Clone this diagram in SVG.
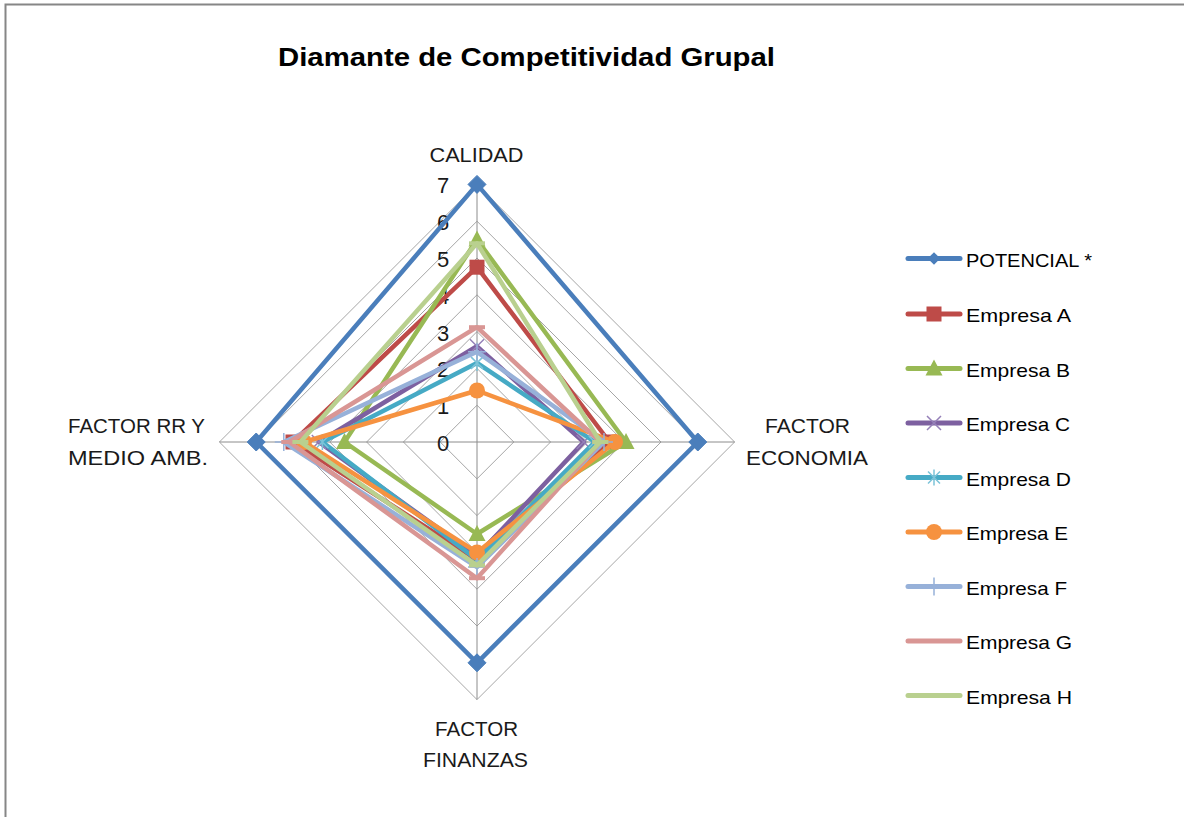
<svg xmlns="http://www.w3.org/2000/svg" xmlns:xlink="http://www.w3.org/1999/xlink" width="1184" height="817" viewBox="0 0 1184 817">
<style>
.grid{fill:none;stroke:#a6a6a6;stroke-width:1}
.spoke{stroke:#8c8c8c;stroke-width:1}
.ser{fill:none;stroke-width:4.5;stroke-linejoin:round}
.lg{stroke-width:5;stroke-linecap:round}
.num{font-family:"Liberation Sans",Arial,sans-serif;font-size:22px;fill:#1a1a1a;text-anchor:middle}
.axl{font-family:"Liberation Sans",Arial,sans-serif;font-size:21px;fill:#1a1a1a;text-anchor:middle}
.axs{font-family:"Liberation Sans",Arial,sans-serif;font-size:21px;fill:#1a1a1a}
.leg{font-family:"Liberation Sans",Arial,sans-serif;font-size:19px;fill:#000}
.title{font-family:"Liberation Sans",Arial,sans-serif;font-size:26px;font-weight:bold;fill:#000}
.thin{fill:none;stroke-width:1.5}
</style>
<defs>
<path id="mDiamond" d="M0,-9 L9,0 L0,9 L-9,0Z"/>
<rect id="mSquare" x="-7.5" y="-7.5" width="15" height="15"/>
<path id="mTri" d="M0,-9 L8.5,7 L-8.5,7Z"/>
<path id="mX" d="M-7,-7 L7,7 M-7,7 L7,-7"/>
<path id="mStar" d="M-6,-6 L6,6 M-6,6 L6,-6 M0,-8 L0,8"/>
<circle id="mCircle" r="8"/>
<path id="mPlus" d="M-9,0 L9,0 M0,-9 L0,9"/>
<path id="mDash" d="M-8,0 L8,0"/>
</defs>
<rect x="0" y="0" width="1184" height="817" fill="#fff"/>
<rect x="5.5" y="4.5" width="1300" height="900" fill="none" stroke="#868686" stroke-width="2"/>
<text class="title" x="278" y="66" textLength="497" lengthAdjust="spacingAndGlyphs">Diamante de Competitividad Grupal</text>

<g id="grid">
<path class="grid" d="M477,405.2 L513.8,442 L477,478.8 L440.2,442Z"/>
<path class="grid" d="M477,368.4 L550.6,442 L477,515.6 L403.4,442Z"/>
<path class="grid" d="M477,331.6 L587.4,442 L477,552.4 L366.6,442Z"/>
<path class="grid" d="M477,294.8 L624.2,442 L477,589.2 L329.8,442Z"/>
<path class="grid" d="M477,258 L661,442 L477,626 L293,442Z"/>
<path class="grid" d="M477,221.2 L697.8,442 L477,662.8 L256.2,442Z"/>
<path class="grid" d="M477,184.4 L734.6,442 L477,699.6 L219.4,442Z"/>
<line class="spoke" x1="477" y1="184.4" x2="477" y2="699.6"/>
<line class="spoke" x1="219.4" y1="442" x2="734.6" y2="442"/>
</g>

<g id="axis-numbers">
<text class="num" x="443" y="451">0</text>
<text class="num" x="443" y="414.2">1</text>
<text class="num" x="443" y="377.4">2</text>
<text class="num" x="443" y="340.6">3</text>
<text class="num" x="443" y="303.8">4</text>
<text class="num" x="443" y="267">5</text>
<text class="num" x="443" y="230.2">6</text>
<text class="num" x="443" y="193.4">7</text>
</g>

<g id="axis-labels">
<text class="axl" x="476.5" y="162" textLength="94" lengthAdjust="spacingAndGlyphs">CALIDAD</text>
<text class="axl" x="807.5" y="433" textLength="85" lengthAdjust="spacingAndGlyphs">FACTOR</text>
<text class="axl" x="807" y="465" textLength="122" lengthAdjust="spacingAndGlyphs">ECONOMIA</text>
<text class="axl" x="476.5" y="736" textLength="83" lengthAdjust="spacingAndGlyphs">FACTOR</text>
<text class="axl" x="475.5" y="767" textLength="105" lengthAdjust="spacingAndGlyphs">FINANZAS</text>
<text class="axs" x="68" y="433" textLength="137" lengthAdjust="spacingAndGlyphs">FACTOR RR Y</text>
<text class="axs" x="68" y="465" textLength="140" lengthAdjust="spacingAndGlyphs">MEDIO AMB.</text>
</g>

<g id="series">
<g id="s-potencial" stroke="#4A7EBB" fill="#4A7EBB">
<path class="ser" d="M477,184.4 L697.8,442 L477,662.8 L256.2,442Z"/>
<use href="#mDiamond" x="477" y="184.4"/><use href="#mDiamond" x="697.8" y="442"/><use href="#mDiamond" x="477" y="662.8"/><use href="#mDiamond" x="256.2" y="442"/>
</g>
<g id="s-a" stroke="#BE4B48" fill="#BE4B48">
<path class="ser" d="M477,267.2 L609.5,442 L477,559.8 L293,442Z"/>
<g stroke="none"><use href="#mSquare" x="477" y="267.2"/><use href="#mSquare" x="609.5" y="442"/><use href="#mSquare" x="477" y="559.8"/><use href="#mSquare" x="293" y="442"/></g>
</g>
<g id="s-b" stroke="#98B954" fill="#98B954">
<path class="ser" d="M477,239.6 L626,442 L477,534 L344.5,442Z"/>
<g stroke="none"><use href="#mTri" x="477" y="239.6"/><use href="#mTri" x="626" y="442"/><use href="#mTri" x="477" y="534"/><use href="#mTri" x="344.5" y="442"/></g>
</g>
<g id="s-c" stroke="#7D60A0">
<path class="ser" d="M477,346.3 L583.7,442 L477,556.1 L318.8,442Z"/>
<g class="thin" stroke="#9580B8"><use href="#mX" x="477" y="346.3"/><use href="#mX" x="583.7" y="442"/><use href="#mX" x="477" y="556.1"/><use href="#mX" x="318.8" y="442"/></g>
</g>
<g id="s-d" stroke="#46AAC5">
<path class="ser" d="M477,362.9 L594.8,442 L477,559.8 L322.4,442Z"/>
<g class="thin" stroke="#7cc3d8"><use href="#mStar" x="477" y="362.9"/><use href="#mStar" x="594.8" y="442"/><use href="#mStar" x="477" y="559.8"/><use href="#mStar" x="322.4" y="442"/></g>
</g>
<g id="s-e" stroke="#F69240" fill="#F69240">
<path class="ser" d="M477,390.5 L615,442 L477,552.4 L304,442Z"/>
<g stroke="none"><use href="#mCircle" x="477" y="390.5"/><use href="#mCircle" x="615" y="442"/><use href="#mCircle" x="477" y="552.4"/><use href="#mCircle" x="304" y="442"/></g>
</g>
<g id="s-f" stroke="#97B1D9">
<path class="ser" d="M477,351.8 L604,442 L477,567.1 L283.8,442Z"/>
<g class="thin"><use href="#mPlus" x="477" y="351.8"/><use href="#mPlus" x="604" y="442"/><use href="#mPlus" x="477" y="567.1"/><use href="#mPlus" x="283.8" y="442"/></g>
</g>
<g id="s-g" stroke="#D99694">
<path class="ser" d="M477,327.2 L600.3,442 L477,578.2 L289.3,442Z"/>
<g fill="none" stroke-width="4"><use href="#mDash" x="477" y="327.2"/><use href="#mDash" x="600.3" y="442"/><use href="#mDash" x="477" y="578.2"/><use href="#mDash" x="289.3" y="442"/></g>
</g>
<g id="s-h" stroke="#B9D08F">
<path class="ser" d="M477,243.3 L600.3,442 L477,565.3 L300.4,442Z"/>
<g fill="none" stroke-width="4"><use href="#mDash" x="477" y="243.3"/><use href="#mDash" x="600.3" y="442"/><use href="#mDash" x="477" y="565.3"/><use href="#mDash" x="300.4" y="442"/></g>
</g>
</g>

<g id="legend">
<g id="lg-potencial"><line class="lg" x1="908" y1="258.5" x2="960" y2="258.5" stroke="#4A7EBB"/><use href="#mDiamond" x="934" y="258.5" fill="#4A7EBB" transform="translate(934 258.5) scale(0.7) translate(-934 -258.5)"/><text class="leg" x="966" y="266.5" textLength="126" lengthAdjust="spacingAndGlyphs">POTENCIAL *</text></g>
<g id="lg-a"><line class="lg" x1="908" y1="314" x2="960" y2="314" stroke="#BE4B48"/><use href="#mSquare" x="934" y="314" fill="#BE4B48"/><text class="leg" x="966" y="322" textLength="105" lengthAdjust="spacingAndGlyphs">Empresa A</text></g>
<g id="lg-b"><line class="lg" x1="908" y1="368.5" x2="960" y2="368.5" stroke="#98B954"/><use href="#mTri" x="934" y="368.5" fill="#98B954"/><text class="leg" x="966" y="376.5" textLength="104" lengthAdjust="spacingAndGlyphs">Empresa B</text></g>
<g id="lg-c"><line class="lg" x1="908" y1="423" x2="960" y2="423" stroke="#7D60A0"/><use href="#mX" x="934" y="423" class="thin" stroke="#9580B8"/><text class="leg" x="966" y="431" textLength="104" lengthAdjust="spacingAndGlyphs">Empresa C</text></g>
<g id="lg-d"><line class="lg" x1="908" y1="477.5" x2="960" y2="477.5" stroke="#46AAC5"/><use href="#mStar" x="934" y="477.5" class="thin" stroke="#7cc3d8"/><text class="leg" x="966" y="485.5" textLength="105" lengthAdjust="spacingAndGlyphs">Empresa D</text></g>
<g id="lg-e"><line class="lg" x1="908" y1="532" x2="960" y2="532" stroke="#F69240"/><use href="#mCircle" x="934" y="532" fill="#F69240"/><text class="leg" x="966" y="540" textLength="102" lengthAdjust="spacingAndGlyphs">Empresa E</text></g>
<g id="lg-f"><line class="lg" x1="908" y1="586.5" x2="960" y2="586.5" stroke="#97B1D9"/><use href="#mPlus" x="934" y="586.5" class="thin" stroke="#97B1D9"/><text class="leg" x="966" y="594.5" textLength="101" lengthAdjust="spacingAndGlyphs">Empresa F</text></g>
<g id="lg-g"><line class="lg" x1="908" y1="641" x2="960" y2="641" stroke="#D99694"/><text class="leg" x="966" y="649" textLength="106" lengthAdjust="spacingAndGlyphs">Empresa G</text></g>
<g id="lg-h"><line class="lg" x1="908" y1="695.5" x2="960" y2="695.5" stroke="#B9D08F"/><text class="leg" x="966" y="703.5" textLength="106" lengthAdjust="spacingAndGlyphs">Empresa H</text></g>
</g>
</svg>
